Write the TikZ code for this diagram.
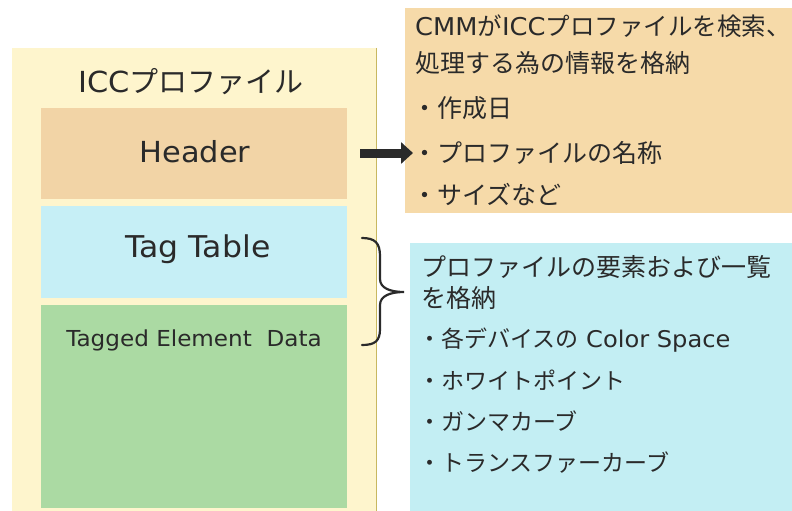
\documentclass[tikz,border=0pt]{standalone}
\usepackage{fontspec}
\setmainfont{Noto Sans CJK JP}
\newfontfamily\lat[FakeStretch=1.05]{DejaVu Sans}
\usetikzlibrary{arrows.meta}
\definecolor{panel}{HTML}{FEF5CD}
\definecolor{panelline}{HTML}{C8B860}
\definecolor{hdr}{HTML}{F2D4A6}
\definecolor{orangebox}{HTML}{F6DAA9}
\definecolor{tagtab}{HTML}{C6EFF6}
\definecolor{tagged}{HTML}{ABDAA3}
\definecolor{cyanbox}{HTML}{C3EEF3}
\definecolor{ink}{HTML}{2A2A2A}
\tikzset{
  blk/.style={draw=none, inner sep=0pt, outer sep=0pt},
  bigtxt/.style={font=\fontsize{29}{33}\selectfont, text=ink, inner sep=0pt},
  tagtxt/.style={font=\fontsize{30}{34}\selectfont, text=ink, inner sep=0pt},
  titletxt/.style={font=\fontsize{29}{33}\selectfont, text=ink, inner sep=0pt},
  midtxt/.style={font=\fontsize{22}{26}\selectfont, text=ink, inner sep=0pt},
  rtxt/.style={font=\fontsize{25}{29}\selectfont, text=ink, inner sep=0pt, anchor=west},
  ltxt/.style={font=\fontsize{23}{27}\selectfont, text=ink, inner sep=0pt, anchor=west},
}
\begin{document}
\begin{tikzpicture}[x=1pt,y=-1pt]
\useasboundingbox (0,0) rectangle (792,511);
\fill[white] (0,0) rectangle (792,511);
% outer panel
\fill[panel] (12,48) rectangle (376,511);
\draw[panelline, line width=0.8pt] (376,48) -- (376,511);
% boxes in panel
\node[blk, fill=hdr, minimum width=306pt, minimum height=91pt] (header) at (194,153.5) {};
\node[blk, fill=tagtab, minimum width=306pt, minimum height=92pt] (tagtable) at (194,252) {};
\node[blk, fill=tagged, minimum width=306pt, minimum height=203pt] (tagged) at (194,406.5) {};
\node[titletxt] (title) at (191,82) {{\lat ICC}プロファイル};
\node[bigtxt] (hdrlbl) at (195,152) {\lat Header};
\node[tagtxt] (taglbl) at (198,249) {\lat Tag Table};
\node[midtxt] (tedlbl) at (194,340) {\lat Tagged Element\ \ Data};
% right boxes
\node[blk, fill=orangebox, minimum width=395pt, minimum height=205pt] (obox) at (602.5,110.5) {};
\node[blk, fill=cyanbox, minimum width=390pt, minimum height=268pt] (cbox) at (605,377) {};
% orange texts
\node[rtxt, font=\fontsize{24.5}{29}\selectfont] (o1) at (415,26) {{\lat CMM}が{\lat ICC}プロファイルを検索、};
\node[rtxt] (o2) at (415,63) {処理する為の情報を格納};
\node[rtxt] (o3) at (412,108) {・作成日};
\node[rtxt] (o4) at (412,153) {・プロファイルの名称};
\node[rtxt] (o5) at (412,195) {・サイズなど};
% cyan texts
\node[rtxt] (c1) at (421,267) {プロファイルの要素および一覧};
\node[rtxt] (c2) at (421,298) {を格納};
\node[ltxt] (c3) at (418,340) {・各デバイスの{\lat\ Color Space}};
\node[ltxt] (c4) at (418,380) {・ホワイトポイント};
\node[ltxt] (c5) at (418,421) {・ガンマカーブ};
\node[ltxt] (c6) at (418,463) {・トランスファーカーブ};
% arrow
\coordinate (astart) at (360,153);
\coordinate (aend) at (413,153);
\draw[ink, line width=9pt, -{Triangle[length=12pt,width=21pt]}] (astart) -- (aend);
% brace
\coordinate (btop) at (362,238);
\coordinate (bbot) at (362,345);
\coordinate (btip) at (404,292);
\draw[ink, line width=2.2pt, line cap=round]
  (btop) .. controls (375,238) and (380,243) .. (380,256) -- (380,279)
  .. controls (380,288) and (390,292) .. (btip)
  .. controls (390,292) and (380,296) .. (380,305) -- (380,329)
  .. controls (380,341) and (375,345) .. (bbot);
\end{tikzpicture}
\end{document}
